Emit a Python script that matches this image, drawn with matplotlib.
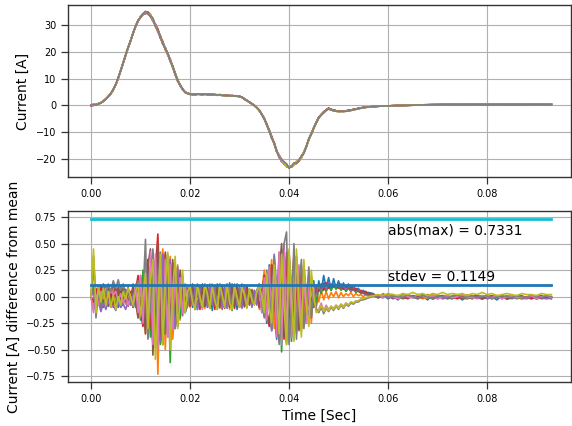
import numpy as np
import matplotlib
matplotlib.use("Agg")
import matplotlib.pyplot as plt

# sample times [s]: dense part then tail
t_dense = np.linspace(0.0, 0.056, 113)
t_tail = np.linspace(0.057, 0.093, 37)

# mean current [A]
mean_current = [
    0.0, 0.1, 0.3, 0.6, 1.0, 1.6, 2.4, 3.3, 4.4, 5.9, 7.8, 10.2, 13.0, 15.9, 18.8, 21.6,
    24.2, 27.0, 29.5, 31.5, 33.0, 34.1, 34.6, 34.4, 33.5, 32.0, 30.0, 27.9, 25.6, 23.4,
    21.2, 19.1, 17.0, 14.4, 11.8, 9.4, 7.5, 6.0, 5.0, 4.5, 4.2, 4.1, 4.1, 4.2, 4.2, 4.1,
    4.2, 4.1, 4.1, 4.0, 4.0, 3.9, 3.9, 3.8, 3.8, 3.7, 3.6, 3.6, 3.5, 3.5, 3.4, 3.0, 2.4,
    1.8, 1.2, 0.6, 0.0, -0.9, -1.9, -3.3, -5.0, -7.1, -9.4, -11.9, -14.3, -16.8, -19.0,
    -20.5, -21.5, -22.4, -23.0, -22.6, -22.0, -21.3, -20.5, -19.2, -17.6, -15.2, -12.7,
    -10.5, -8.4, -6.4, -4.6, -3.5, -2.6, -1.8, -1.2, -1.6, -1.9, -2.1, -2.2, -2.2, -2.2,
    -2.1, -2.0, -1.8, -1.6, -1.4, -1.2, -1.0, -0.8, -0.7, -0.6,
    -0.45, -0.3, -0.25, -0.2, -0.1, -0.05, 0.0, 0.05, 0.1, 0.15, 0.2, 0.25, 0.28, 0.3,
    0.32, 0.34, 0.35, 0.36, 0.37, 0.38, 0.38, 0.39, 0.39, 0.4, 0.4, 0.4, 0.4, 0.4, 0.4,
    0.41, 0.41, 0.41, 0.41, 0.41, 0.41, 0.41, 0.41,
]

# differences from mean [A], one list per recording
diff_0 = ([0.0, -.12]
          + [.05, -.08, .06, -.1, .04, -.09, .07, -.06, .05, -.1, .06, -.08, .05, -.07, .04]
          + [-.1, .02, .15, -.15, .0, .3, -.35, .1, .42, -.4, -.1, .38, -.45, .05, .32, -.3, .0, .27, -.25, .05, .18, -.15, -.08]
          + [.09, -.1, .08, -.12, .1, -.09, .11, -.1, .08, -.13, .1, -.08, .12, -.11, .09, -.1, .13, -.09, .1, -.12, .08, -.1, .11, -.08, .07, -.09, .06, -.05]
          + [.1, -.15, .2, -.25, .3, -.32, .35, -.4, .38, -.45, .4, -.42, .35, -.38, .3, -.32, .28, -.3, .22, -.25, .18, -.2, .15, -.1]
          + [.15, .05, .2, .08, .18, .06, .17, .08, .15, .07, .13, .06, .12, .07, .1, .05, .08, .04, .06, .03, .04]
          + [.03, -.01, .02, -.02, .01, -.03, .02, -.01, .0, -.02, .01, -.03, .02, -.02, .01, -.01, -.02, .01, -.03, .0, -.02, .01, -.02, -.01, .0, -.03, .01, -.02, -.01, .0, -.02, -.01, .01, -.02, .0, -.01, -.02])
diff_1 = ([0.0, -.08]
          + [-.06, .08, -.1, .05, -.08, .09, -.05, .07, -.1, .06, -.04, .08, -.07, .05, -.06]
          + [.08, .02, -.2, .15, -.1, -.35, .3, .1, -.45, .35, -.73, .2, .45, -.5, .1, .38, -.4, -.1, .3, -.22, .05, .1, -.06]
          + [-.1, .07, -.12, .09, -.08, .1, -.11, .08, -.09, .12, -.1, .07, -.11, .1, -.08, .09, -.12, .1, -.07, .11, -.09, .08, -.1, .09, -.06, .07, -.05, .06]
          + [-.12, .05, .25, -.22, .1, .35, -.3, -.1, .42, -.4, .2, .38, -.42, .1, .4, -.32, -.1, .3, -.28, .05, .2, -.25, .1, .08]
          + [-.05, .06, -.03, .05, -.02, .04, .0, .05, -.01, .04, .0, .03, .01, .04, .0, .03, .01, .02, .0, .02, .01]
          + [.02, -.01, .03, .0, .02, -.02, .01, .02, -.01, .01, -.02, .0, .02, -.01, .01, -.02, .0, .01, -.01, .02, -.02, .0, .01, -.01, .0, .01, -.02, .0, .01, -.01, -.02, .0, .01, -.02, .0, -.01, .0])
diff_2 = ([0.0, .1]
          + [-.1, .05, -.12, .07, -.06, .1, -.08, .04, -.09, .06, -.1, .08, -.05, .09, -.07]
          + [.12, -.1, .18, -.22, .25, -.3, .35, -.38, .4, -.42, .38, -.45, .4, -.35, .3, -.62, .32, -.3, .22, -.2, .15, -.1, .08]
          + [.08, -.02, -.11, .1, .03, -.1, .12, -.05, -.09, .11, .0, -.12, .1, -.04, -.1, .12, .02, -.13, .1, -.02, -.09, .11, -.03, -.09, .07, .0, -.07, .06]
          + [.1, -.12, .2, -.22, .25, -.3, .32, -.35, .4, -.52, .38, -.4, .35, -.42, .3, -.3, .25, -.28, .2, -.22, .15, -.15, .1, -.08]
          + [.1, .03, .12, .05, .1, .06, .11, .07, .1, .06, .09, .05, .08, .05, .07, .04, .06, .03, .04, .02, .03]
          + [.02, .0, .01, -.01, .02, -.02, .0, .01, -.01, .0, .02, -.02, .0, -.01, .01, -.02, .0, .01, -.01, -.02, .0, .01, -.01, .0, -.02, .01, -.01, .0, .01, -.02, .0, -.01, .0, .01, -.02, -.01, .0])
diff_3 = ([0.0, -.05]
          + [.08, -.06, .1, -.04, .09, -.07, .06, -.1, .08, -.05, .1, -.06, .07, -.09, .05]
          + [-.1, .05, .2, -.15, -.28, .1, .35, -.2, -.42, .25, .59, -.1, -.4, .42, .05, -.35, .3, -.05, -.25, .22, -.05, -.1, .06]
          + [-.09, .12, -.1, .08, -.12, .1, -.08, .11, -.1, .09, -.12, .08, -.1, .11, -.09, .1, -.08, .12, -.11, .09, -.1, .08, -.09, .1, -.07, .06, -.06, .05]
          + [-.1, .0, .2, -.15, -.28, .3, .05, -.38, .35, .1, -.4, .42, -.1, -.35, .38, .0, -.3, .25, .05, -.22, .15, -.05, -.1, .08]
          + [.05, .12, .06, .13, .08, .12, .09, .11, .08, .12, .07, .1, .08, .09, .06, .08, .05, .06, .04, .05, .03]
          + [.02, .01, .0, .02, -.01, .01, .0, -.02, .01, .0, -.01, .02, -.02, .0, .01, -.01, .0, -.02, .01, -.01, .0, .01, -.02, .0, -.01, .01, .0, -.02, -.01, .01, .0, -.01, -.02, .0, .01, -.01, .0])
diff_4 = ([0.0, .05]
          + [-.12, -.05, -.14, -.06, -.12, -.04, -.1, -.08, -.13, -.05, -.1, -.07, -.12, -.04, -.08]
          + [.05, .0, -.12, .15, -.05, -.2, .25, .05, -.3, .35, -.1, -.42, .4, .0, -.38, .35, -.05, -.3, .28, .0, -.18, .12, .05]
          + [.1, -.08, .09, -.12, .08, -.1, .11, -.09, .12, -.08, .1, -.1, .09, -.12, .08, -.11, .1, -.09, .12, -.08, .1, -.11, .09, -.08, .07, -.1, .06, -.08]
          + [.12, .0, -.18, .22, -.05, -.3, .4, .1, -.42, .45, -.1, -.45, .42, .05, -.4, .38, -.1, -.3, .3, .0, -.25, .18, -.05, .05]
          + [.1, .06, .12, .08, .13, .09, .12, .1, .11, .08, .1, .07, .09, .06, .07, .05, .06, .04, .03, .02, .02]
          + [.01, .0, -.01, .01, -.02, .0, .01, -.01, .0, -.02, .01, .0, -.01, .01, -.02, -.01, .0, .01, -.02, .0, -.01, .0, .01, -.02, -.01, .0, -.01, .01, -.02, .0, -.01, -.02, .0, .01, -.01, -.02, -.01])
diff_5 = ([0.0, .38]
          + [-.05, .1, -.02, .12, .0, .1, .03, .12, .02, .09, -.02, .08, .0, .06, -.03]
          + [.1, -.05, -.2, .2, .05, -.35, .3, .45, -.55, .1, .5, -.3, -.45, .4, .1, -.4, .35, -.1, -.28, .25, .0, -.12, .08]
          + [-.08, .1, -.12, .09, -.1, .12, -.09, .08, -.11, .1, -.08, .12, -.1, .09, -.11, .08, -.1, .11, -.09, .12, -.08, .1, -.09, .07, -.08, .06, -.07, .05]
          + [-.1, .05, .18, -.15, -.25, .3, .1, -.35, .2, .5, -.38, -.1, .42, -.35, .05, .38, -.32, -.05, .25, -.2, .0, .15, -.1, .1]
          + [.12, .08, .13, .1, .12, .09, .11, .1, .12, .08, .1, .09, .08, .07, .07, .06, .05, .04, .04, .03, .02]
          + [.01, -.01, .02, .0, -.01, .01, -.02, .0, .01, -.01, .0, .01, -.02, -.01, .0, .01, -.01, .0, -.02, .01, .0, -.01, -.02, .0, .01, -.01, .0, -.02, -.01, .0, .01, -.01, .0, -.02, -.01, .0, -.01])
diff_6 = ([0.0, -.15]
          + [.02, -.08, .05, -.02, .08, .0, .06, .02, .05, -.04, .03, -.06, .02, -.08, .0]
          + [-.08, .12, -.15, .2, -.25, .32, -.38, .42, -.45, .4, -.5, .38, -.42, .35, -.38, .3, -.3, .25, -.22, .18, -.15, .1, -.05]
          + [.07, .02, -.1, .09, -.03, -.12, .11, .0, -.09, .1, .04, -.11, .09, -.02, -.1, .12, .01, -.09, .11, -.05, -.1, .1, .03, -.08, .06, -.02, -.06, .05]
          + [.1, -.15, .18, -.22, .28, -.3, .35, -.38, .42, -.45, .5, -.42, .4, -.38, .35, -.35, .3, -.32, .22, -.25, .15, -.18, .08, -.12]
          + [-.12, -.06, -.13, -.08, -.12, -.09, -.11, -.08, -.1, -.07, -.09, -.06, -.08, -.05, -.06, -.04, -.04, -.03, -.02, -.02, -.01]
          + [.0, .02, -.01, .01, .0, -.02, .01, .0, -.01, .02, .0, -.01, .01, -.02, .0, .01, -.01, .0, .02, -.01, .0, -.02, .01, .0, -.01, .01, -.02, .0, .01, -.01, .0, -.01, .01, -.02, .0, .01, -.01])
diff_7 = ([0.0, .3]
          + [-.2, .05, -.08, .08, .02, .12, .05, .15, .08, .16, .06, .12, .02, .08, -.04]
          + [-.1, .05, .15, -.2, .0, .54, -.4, -.1, .45, -.48, .1, .42, -.4, -.1, .4, -.35, .05, .3, -.28, .0, .2, -.15, -.08]
          + [.1, .02, -.09, .12, -.04, -.1, .08, .0, -.11, .1, .05, -.08, .12, -.03, -.1, .09, .02, -.12, .11, -.05, -.09, .12, .0, -.1, .07, .02, -.06, .06]
          + [.12, -.05, -.2, .25, .05, -.32, .38, .0, -.45, .3, .5, .61, -.45, -.1, .5, -.4, .1, .35, -.3, -.05, .28, -.2, .05, -.12]
          + [-.15, -.1, -.16, -.11, -.14, -.1, -.13, -.09, -.12, -.08, -.11, -.07, -.09, -.06, -.07, -.05, -.05, -.03, -.03, -.02, -.01]
          + [.01, .0, .02, -.01, .0, .01, -.01, .02, .0, -.01, .01, .0, -.02, .01, .0, -.01, .01, .02, -.01, .0, .01, -.01, .0, .01, -.02, .0, .01, .0, -.01, .01, .0, -.01, .02, .0, -.01, .01, .0])
diff_8 = ([0.0, .45]
          + [-.15, .1, -.05, .08, -.08, .05, -.1, .02, -.12, .0, -.08, .05, -.02, .08, .0]
          + [-.08, .05, .12, -.18, .0, .22, -.3, .15, .35, -.59, -.1, .4, -.45, .1, .42, -.5, .05, .38, -.3, -.05, .25, -.15, .05]
          + [.1, -.05, -.12, .11, .0, -.1, .12, .03, -.11, .1, -.04, -.12, .12, .02, -.1, .11, -.06, -.12, .1, .0, -.1, .09, .02, -.11, .08, -.03, -.08, .05]
          + [.1, .0, -.15, .22, -.1, -.25, .3, .05, -.35, .4, -.1, -.45, .45, .0, -.42, .45, -.05, -.38, .35, -.1, -.28, .25, .0, -.15]
          + [-.13, -.08, -.14, -.1, -.13, -.09, -.12, -.08, -.11, -.07, -.1, -.06, -.08, -.05, -.06, -.04, -.04, -.02, -.02, -.01, .0]
          + [.01, .02, .01, .03, .02, .01, .03, .02, .04, .02, .03, .01, .03, .02, .04, .02, .03, .02, .03, .01, .03, .02, .04, .02, .03, .01, .02, .03, .02, .01, .03, .02, .02, .01, .03, .02, .02])

abs_max = 0.7331
stdev = 0.1149
t_xticks = [0.00, 0.02, 0.04, 0.06, 0.08]

t = np.concatenate([t_dense, t_tail])
mean_arr = np.array(mean_current)
diffs = [np.array(d) for d in (diff_0, diff_1, diff_2, diff_3, diff_4, diff_5, diff_6, diff_7, diff_8)]
colors = ['C%d' % i for i in range(9)]

fig = plt.figure(figsize=(5.72, 4.26), dpi=100)
ax1 = fig.add_axes([0.1189, 0.5845, 0.8794, 0.4038])
ax2 = fig.add_axes([0.1189, 0.1033, 0.8794, 0.4014])

for idx in [0, 1, 2, 3, 4, 5, 6, 8, 7]:
    ax1.plot(t, mean_arr + diffs[idx], color=colors[idx], lw=1.2)
for idx in range(9):
    ax2.plot(t, diffs[idx], color=colors[idx], lw=1.2)

ax2.plot([t[0], t[-1]], [abs_max, abs_max], color='C9', lw=2)
ax2.plot([t[0], t[-1]], [stdev, stdev], color='C0', lw=2)
ax2.text(0.06, 0.59, 'abs(max) = %.4f' % abs_max, fontsize=10)
ax2.text(0.06, 0.148, 'stdev = %.4f' % stdev, fontsize=10)

for ax in (ax1, ax2):
    ax.set_xlim(-0.00465, 0.09697)
    ax.set_xticks(t_xticks)
    ax.grid(True, color='#b0b0b0', lw=0.8)
    ax.set_axisbelow(True)
    ax.tick_params(labelsize=7, length=5, width=0.9, color='#333333')
    for sp in ax.spines.values():
        sp.set_color('#333333')
        sp.set_linewidth(1.0)

ax1.set_ylim(-26.7, 37.46)
ax1.set_yticks([-20, -10, 0, 10, 20, 30])
ax1.set_ylabel('Current [A]', fontsize=10)
ax2.set_ylim(-0.803, 0.807)
ax2.set_yticks([-0.75, -0.5, -0.25, 0.0, 0.25, 0.5, 0.75])
ax2.set_ylabel('Current [A] difference from mean', fontsize=10)
ax2.set_xlabel('Time [Sec]', fontsize=10)

fig.savefig('out.png', dpi=100)
